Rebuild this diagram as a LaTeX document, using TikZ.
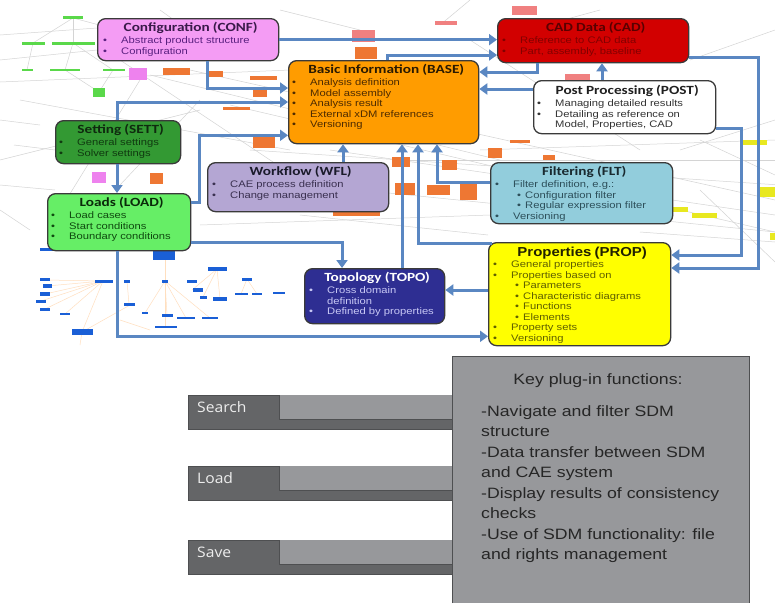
\documentclass[tikz,border=0pt]{standalone}
\usepackage{fontspec}
\setmainfont{Liberation Sans}
\newfontfamily\bodyf{Liberation Sans}[FakeStretch=1.18]
\newfontfamily\titf{Carlito}[FakeStretch=1.22]
\newfontfamily\propf{Liberation Sans}[FakeStretch=1.15]
\newfontfamily\tabf{Open Sans}[FakeStretch=1.08]
\newfontfamily\keyf{Liberation Sans}[FakeStretch=1.18]
\usetikzlibrary{arrows.meta,calc}

\definecolor{confc}{HTML}{F49CF4}
\definecolor{cadc}{HTML}{D20000}
\definecolor{basec}{HTML}{FF9C00}
\definecolor{postc}{HTML}{FFFFFF}
\definecolor{settc}{HTML}{339933}
\definecolor{wflc}{HTML}{B4A6D3}
\definecolor{fltc}{HTML}{92CDDC}
\definecolor{loadc}{HTML}{66EE66}
\definecolor{topoc}{HTML}{2E2E92}
\definecolor{propc}{HTML}{FFFF00}
\definecolor{arrc}{HTML}{5A87C2}
\definecolor{bordc}{HTML}{3A3A3A}
\definecolor{gl}{HTML}{97989B}
\definecolor{gd}{HTML}{646567}
\definecolor{gb}{HTML}{4E4F51}
\definecolor{orc}{HTML}{EE7733}
\definecolor{grc}{HTML}{5AD84A}
\definecolor{pkc}{HTML}{EE82EE}
\definecolor{pkr}{HTML}{F08080}
\definecolor{blc}{HTML}{1A5FD6}
\definecolor{yec}{HTML}{E8E820}

\newcommand\tit[1]{{\centering\titf\bfseries\fontsize{12.5}{13}\selectfont #1\par}\vskip1.5pt}
\newcommand\titp[1]{{\centering\propf\bfseries\fontsize{13}{14}\selectfont #1\par}\vskip0.5pt}
\newcommand\bu[1]{\noindent\makebox[18pt][l]{\textbullet}#1\par}
\newcommand\sbu[1]{\noindent\hspace*{22pt}\makebox[8pt][l]{\textbullet}#1\par}
\newcommand\cn[1]{\noindent\hspace*{18pt}#1\par}

\tikzset{
  box/.style={draw=bordc, line width=1.3pt, rounded corners=8pt, inner sep=0pt, anchor=north west},
  txt/.style={inner sep=0pt, anchor=north west, align=left, font=\bodyf\fontsize{9.5}{10.5}\selectfont},
  arr/.style={draw=arrc, line width=3pt, -{Triangle[length=8pt,width=11pt]}},
  bgl/.style={draw=black!17, line width=0.5pt},
  bgo/.style={draw=orange!25, line width=0.5pt},
  tabdark/.style={fill=gd, draw=gb, line width=0.8pt, inner sep=0pt, anchor=north west},
  tablight/.style={fill=gl, inner sep=0pt, anchor=north west},
  tablbl/.style={inner sep=0pt, anchor=west, text=white!93!black, font=\tabf\fontsize{14.5}{16}\selectfont},
}

\newcommand\mybox[9]{%
  \pgfmathsetmacro\tw{#4-2*#7+6}%
  \node[box, fill=#6, minimum width=#4pt, minimum height=#5pt] (#1) at (#2,#3) {};
  \node[txt, text width=\tw pt] (#1t) at ($(#1.north west)+(#7,#8)$) {#9};}

\begin{document}
\begin{tikzpicture}[x=1pt,y=-1pt]
\useasboundingbox (0,0) rectangle (775,603);
\fill[white] (0,0) rectangle (775,603);

% ---------- faint background graph ----------
\foreach \a/\b/\c/\d in {73/18/33/43, 73/18/73/43, 73/18/118/30, 33/43/27/70, 73/43/65/70, 73/43/113/70,
  65/70/99/92, 113/70/99/92, 0/82/290/70, 20/100/290/150, 0/160/200/110, 0/185/55/190,
  120/60/300/180, 150/75/500/160, 190/70/775/200, 230/105/775/232, 330/150/775/215, 400/160/775/160,
  260/180/775/232, 470/40/640/150, 680/150/775/120, 700/190/775/262, 640/232/775/242, 0/35/97/28,
  0/60/97/50, 140/80/60/210, 200/100/120/185, 250/150/780/185, 480/150/775/140, 30/230/0/210,
  545/25/600/10, 440/25/470/0, 690/60/775/30, 700/140/775/175, 300/215/488/235, 200/225/490/215,
  14/145/55/150, 0/120/40/125, 230/60/160/10, 280/10/360/30}
  \draw[bgl] (\a,\b) -- (\c,\d);
\foreach \a/\b/\c/\d in {103/281/45/280, 103/281/47/286, 103/281/45/294, 103/281/41/301, 103/281/45/309,
  103/281/65/314, 103/281/82/332, 165/281/145/313, 165/281/167/315, 165/281/186/318, 165/281/210/318,
  165/281/165/327, 165/281/165/258, 217/269/192/290, 217/269/203/297, 217/269/220/299, 247/279/241/294,
  247/279/257/294, 127/281/129/304, 82/332/130/305, 82/332/80/345, 120/320/150/330}
  \draw[bgo] (\a,\b) -- (\c,\d);
\foreach \a/\b/\c/\d in {63/16/83/19, 22/42/45/45, 52/42/95/45, 22/69/33/71, 50/69/80/71, 103/69/125/71, 93/88/105/97}
  \fill[grc] (\a,\b) rectangle (\c,\d);
\foreach \a/\b/\c/\d in {129/68/147/80, 92/172/106/183}
  \fill[pkc] (\a,\b) rectangle (\c,\d);
\foreach \a/\b/\c/\d in {512/6/537/15, 435/21/457/25, 352/30/375/42, 565/74/590/80}
  \fill[pkr] (\a,\b) rectangle (\c,\d);
\foreach \a/\b/\c/\d in {355/47/377/59, 163/68/190/75, 207/71/223/77, 250/76/277/80, 253/90/267/97,
  223/107/250/110, 253/137/275/148, 150/173/163/184, 333/211/380/216, 392/157/410/167, 395/183/415/195,
  427/185/450/195, 442/160/457/170, 460/183/477/200, 488/148/502/158, 510/140/530/143, 543/155/555/160}
  \fill[orc] (\a,\b) rectangle (\c,\d);
\foreach \a/\b/\c/\d in {742/140/767/145, 672/207/688/212, 692/213/717/218, 760/187/775/197, 770/233/775/240}
  \fill[yec] (\a,\b) rectangle (\c,\d);
\foreach \a/\b/\c/\d in {40/248/57/251, 153/250/175/260, 208/267/227/271, 95/280/113/283, 124/280/130/283,
  162/280/168/283, 187/280/197/283, 242/278/252/281, 40/278/50/281, 43/284/52/288, 40/292/50/296,
  36/300/46/303, 40/308/50/311, 60/313/70/315, 72/329/93/335, 124/303/135/306, 193/288/203/292,
  200/296/207/299, 213/297/227/301, 235/293/248/295, 252/293/262/295, 273/292/285/294, 142/312/148/314,
  162/314/173/317, 177/317/195/319, 202/317/218/319, 155/326/177/328}
  \fill[blc] (\a,\b) rectangle (\c,\d);

% ---------- boxes ----------
\mybox{conf}{97}{18}{181}{42}{confc}{6}{4.5}{\color[HTML]{3A1A4A}\tit{Configuration (CONF)}\color[HTML]{5A2080}%
  \bu{Abstract product structure}\bu{Configuration}}
\mybox{cad}{497}{18}{191}{44}{cadc}{5}{4.5}{\color[HTML]{5A0000}\tit{CAD Data (CAD)}\color[HTML]{820000}%
  \bu{Reference to CAD data}\bu{Part, assembly, baseline}}
\mybox{base}{288}{60}{190}{83}{basec}{4}{4.5}{\color[HTML]{2A1A00}\tit{Basic Information (BASE)}\color[HTML]{4D2B00}%
  \bu{Analysis definition}\bu{Model assembly}\bu{Analysis result}\bu{External xDM references}\bu{Versioning}}
\mybox{post}{533}{80}{182}{53}{postc}{4}{5.5}{\color[HTML]{202020}\tit{Post Processing (POST)}\color[HTML]{333333}%
  \bu{Managing detailed results}\bu{Detailing as reference on}\cn{Model, Properties, CAD}}
\mybox{sett}{55}{120}{125}{43}{settc}{4}{4.5}{\color[HTML]{0F2A0F}\tit{Setting (SETT)}\color[HTML]{103A10}%
  \bu{General settings}\bu{Solver settings}}
\mybox{wfl}{207}{162}{181}{49}{wflc}{5}{4.5}{\color[HTML]{1A1A2A}\tit{Workflow (WFL)}\color[HTML]{3A3050}%
  \bu{CAE process definition}\bu{Change management}}
\mybox{flt}{490}{162}{182}{61}{fltc}{5}{4.5}{\color[HTML]{1A2A30}\tit{Filtering (FLT)}\color[HTML]{2D4F5A}%
  \bu{Filter definition, e.g.:}\sbu{Configuration filter}\sbu{Regular expression filter}\bu{Versioning}}
\mybox{load}{47}{193}{143}{57}{loadc}{4}{4.5}{\color[HTML]{0A2A0A}\tit{Loads (LOAD)}\color[HTML]{0F4A0F}%
  \bu{Load cases}\bu{Start conditions}\bu{Boundary conditions}}
\mybox{topo}{304}{268}{140}{55}{topoc}{5}{4.5}{\color{white}\tit{Topology (TOPO)}\color[HTML]{C8C8F5}%
  \bu{Cross domain}\cn{definition}\bu{Defined by properties}}
\mybox{prop}{488}{242}{182}{103}{propc}{5}{5}{\color[HTML]{202000}\titp{Properties (PROP)}\color[HTML]{5F5F00}%
  \bu{General properties}\bu{Properties based on}\sbu{Parameters}\sbu{Characteristic diagrams}\sbu{Functions}%
  \sbu{Elements}\bu{Property sets}\bu{Versioning}}

% ---------- connectors ----------
\draw[arr] (conf.east) -- (conf.east -| cad.west);
\draw[arr] ($(base.north west)+(99,0)$) |- ($(cad.north west)+(0,37)$);
\draw[arr] ($(cad.south west)+(40,0)$) |- ($(base.north east)+(0,12)$);
\draw[arr] ($(post.north west)+(0,9)$) -- ($(base.north east)+(0,29)$);
\draw[arr] ($(post.north west)+(69,0)$) -- ($(cad.south west)+(105,0)$);
\draw[arr] ($(conf.south west)+(110,0)$) |- ($(base.north west)+(0,28)$);
\draw[arr] ($(sett.north west)+(62,0)$) |- ($(base.north west)+(0,42)$);
\draw[arr] ($(sett.south west)+(62,0)$) -- ($(load.north west)+(70,0)$);
\draw[arr] ($(load.north east)+(0,9)$) -- ++(8,0) |- ($(base.south west)+(0,-9)$);
\draw[arr] ($(load.south east)+(0,-9)$) -| ($(topo.north west)+(38,0)$);
\draw[arr] ($(load.south west)+(70,0)$) |- ($(prop.south west)+(0,-10)$);
\draw[arr] ($(wfl.north west)+(136,0)$) -- ($(base.south west)+(55,0)$);
\draw[arr] ($(topo.north west)+(98,0)$) -- ($(base.south west)+(114,0)$);
\draw[arr] ($(prop.north west)+(4,1)$) -| ($(base.south west)+(130,0)$);
\draw[arr] ($(flt.north west)+(0,20)$) -| ($(base.south west)+(149,0)$);
\draw[arr] ($(post.south east)+(0,-6)$) -- ++(25,0) |- ($(prop.north east)+(0,13)$);
\draw[arr] ($(cad.north east)+(0,39)$) -- ++(69,0) |- ($(prop.north east)+(0,26)$);
\draw[arr] ($(prop.north west)+(0,48)$) -- ($(topo.north east)+(0,22)$);

% ---------- plug-in panel ----------
\node[fill=gl, inner sep=0pt, anchor=north west, minimum width=297pt, minimum height=247pt] (keybox) at (452,356) {};
\foreach \nm/\lb/\y in {search/Search/395, load2/Load/466, save/Save/540}{
  \node[tabdark, minimum width=264pt, minimum height=34pt] (\nm) at (188,\y) {};
  \node[tablight, minimum width=173pt, minimum height=24pt] (\nm l) at (279,\y) {};
  \draw[gb, line width=0.8pt] (\nm l.north west) -- (\nm l.south west) -- (\nm l.south east);
  \node[tablbl] (\nm t) at ($(\nm.north west)+(9,12.5)$) {\lb};
}
\draw[gb, line width=1pt] (452,603) -- (452,574) (452,540) -- (452,500) (452,466) -- (452,429)
  (452,395) -- (452,356) -- (749,356) -- (749,603);
\node[inner sep=0pt, font=\keyf\fontsize{15}{17}\selectfont, text=black!85] (keyt) at (598,381) {Key plug-in functions:};
\node[inner sep=0pt, anchor=north west, align=left, text=black!85, font=\keyf\fontsize{15}{20.5}\selectfont] (keyl) at (481,405)
  {-Navigate and filter SDM\\structure\\-Data transfer between SDM\\and CAE system\\-Display results of consistency\\checks\\-Use of SDM functionality: file\\and rights management};
\end{tikzpicture}
\end{document}
